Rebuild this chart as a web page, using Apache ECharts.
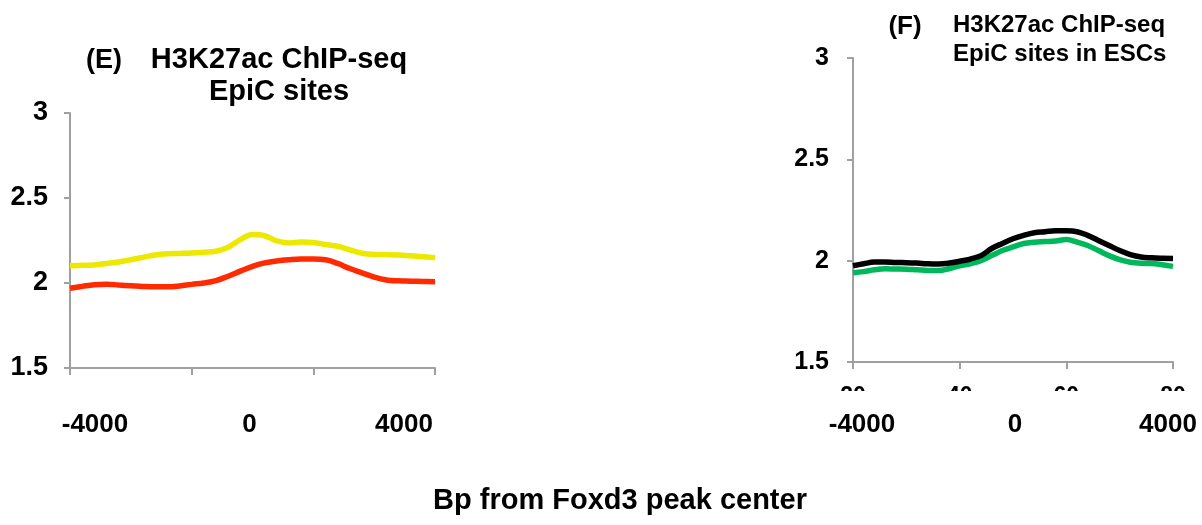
<!DOCTYPE html>
<html>
<head>
<meta charset="utf-8">
<script src="https://cdn.jsdelivr.net/npm/echarts@6/dist/echarts.min.js"></script>
<style>
  html, body { margin: 0; padding: 0; background: #fff; }
  #chart { width: 1202px; height: 525px; }
</style>
</head>
<body>
<div id="chart"></div>
<script>
// bin index along the window (the Excel category positions)
var positions = [20, 22, 24, 26, 28, 30, 32, 34, 36, 38, 40, 42, 44, 46, 48, 50,
                 52, 54, 56, 58, 60, 62, 64, 66, 68, 70, 72, 74, 76, 78, 80];

// (E) H3K27ac at EpiC sites
var epicYellow = [2.102, 2.104, 2.106, 2.115, 2.124, 2.137, 2.151, 2.165, 2.172, 2.174, 2.176,
                  2.181, 2.187, 2.210, 2.255, 2.285, 2.278, 2.248, 2.236, 2.241, 2.238,
                  2.226, 2.216, 2.195, 2.175, 2.168, 2.167, 2.165, 2.160, 2.155, 2.149];
var epicRed = [1.969, 1.980, 1.990, 1.993, 1.988, 1.984, 1.980, 1.978, 1.978, 1.983, 1.992,
               2.000, 2.014, 2.040, 2.070, 2.098, 2.118, 2.130, 2.137, 2.141, 2.141,
               2.137, 2.115, 2.085, 2.060, 2.035, 2.018, 2.013, 2.011, 2.009, 2.008];

// (F) H3K27ac at EpiC sites in ESCs
var escBlack = [1.975, 1.985, 1.993, 1.994, 1.991, 1.990, 1.988, 1.985, 1.984, 1.988, 1.997,
                2.008, 2.025, 2.060, 2.085, 2.108, 2.125, 2.138, 2.143, 2.147, 2.147,
                2.143, 2.125, 2.100, 2.075, 2.050, 2.030, 2.018, 2.014, 2.012, 2.011];
var escGreen = [1.940, 1.946, 1.955, 1.960, 1.959, 1.958, 1.955, 1.952, 1.951, 1.960, 1.975,
                1.985, 2.000, 2.025, 2.050, 2.068, 2.085, 2.091, 2.094, 2.097, 2.104,
                2.092, 2.075, 2.050, 2.025, 2.005, 1.992, 1.987, 1.986, 1.980, 1.972];

var bpLabels = [-4000, 0, 4000];
var yMin = 1.5, yMax = 3, yStep = 0.5;

var font = '"Liberation Sans", Arial, sans-serif';
var axisGrey = '#a0a0a0';

function pairs(vals) {
    return positions.map(function (p, i) { return [p, vals[i]]; });
}

function lineSeries(name, vals, color, idx) {
    return {
        name: name,
        type: 'line',
        xAxisIndex: idx,
        yAxisIndex: idx,
        data: pairs(vals),
        smooth: 0.4,
        showSymbol: false,
        lineStyle: { color: color, width: 5.5 },
        itemStyle: { color: color },
        animation: false
    };
}

function valueY(idx, size, margin) {
    return {
        type: 'value', gridIndex: idx, min: yMin, max: yMax, interval: yStep,
        axisLine: { show: true, lineStyle: { color: axisGrey, width: 2 } },
        axisTick: { show: true, length: 6, lineStyle: { color: axisGrey, width: 2 } },
        splitLine: { show: false },
        axisLabel: { color: '#000', fontFamily: font, fontWeight: 'bold', fontSize: size, margin: margin }
    };
}

function posX(idx, showLabels) {
    return {
        type: 'value', gridIndex: idx, min: 20, max: 80, interval: 20,
        axisLine: { show: true, onZero: false, lineStyle: { color: axisGrey, width: 2 } },
        axisTick: { show: true, length: 7, lineStyle: { color: axisGrey, width: 2 } },
        splitLine: { show: false },
        axisLabel: { show: showLabels, color: '#000', fontFamily: font, fontWeight: 'bold', fontSize: 23, margin: 23 }
    };
}

function bpX(idx) {
    return {
        type: 'value', gridIndex: idx, min: bpLabels[0], max: bpLabels[bpLabels.length - 1],
        interval: bpLabels[1] - bpLabels[0],
        axisLine: { show: false }, axisTick: { show: false }, splitLine: { show: false },
        axisLabel: {
            color: '#000', fontFamily: font, fontWeight: 'bold', fontSize: 26, margin: 22,
            formatter: function (v) { return String(v); }
        }
    };
}

function hiddenY(idx) {
    return { type: 'value', gridIndex: idx, show: false, min: 0, max: 1 };
}

var myChart = echarts.init(document.getElementById('chart'), null, { renderer: 'canvas' });

var option = {
    backgroundColor: '#fff',
    animation: false,
    grid: [
        { left: 70, top: 113, width: 365, height: 255 },
        { left: 853, top: 58, width: 320, height: 304 },
        { left: 95, top: 380, width: 309, height: 10 },
        { left: 862, top: 380, width: 306, height: 10 }
    ],
    xAxis: [posX(0, false), posX(1, true), bpX(2), bpX(3)],
    yAxis: [valueY(0, 27, 22), valueY(1, 25, 24), hiddenY(2), hiddenY(3)],
    series: [
        lineSeries('EpiC yellow', epicYellow, '#ece800', 0),
        lineSeries('EpiC red', epicRed, '#ff2a00', 0),
        lineSeries('ESC green', escGreen, '#00b85c', 1),
        lineSeries('ESC black', escBlack, '#000000', 1)
    ],
    graphic: [
        // white box that hides the lower part of the 20/40/60/80 labels
        { type: 'rect', z: 100, shape: { x: 820, y: 391, width: 382, height: 22 }, style: { fill: '#fff' } },
        { type: 'text', x: 104, y: 61, style: { text: '(E)', font: 'bold 27px ' + font, fill: '#000', align: 'center', verticalAlign: 'middle' } },
        { type: 'text', x: 279, y: 60, style: { text: 'H3K27ac ChIP-seq', font: 'bold 29px ' + font, fill: '#000', align: 'center', verticalAlign: 'middle' } },
        { type: 'text', x: 279, y: 92, style: { text: 'EpiC sites', font: 'bold 29px ' + font, fill: '#000', align: 'center', verticalAlign: 'middle' } },
        { type: 'text', x: 905, y: 27, style: { text: '(F)', font: 'bold 26px ' + font, fill: '#000', align: 'center', verticalAlign: 'middle' } },
        { type: 'text', x: 953, y: 25, style: { text: 'H3K27ac ChIP-seq', font: 'bold 24px ' + font, fill: '#000', align: 'left', verticalAlign: 'middle' } },
        { type: 'text', x: 953, y: 54, style: { text: 'EpiC sites in ESCs', font: 'bold 24px ' + font, fill: '#000', align: 'left', verticalAlign: 'middle' } },
        { type: 'text', x: 620, y: 501, style: { text: 'Bp from Foxd3 peak center', font: 'bold 29px ' + font, fill: '#000', align: 'center', verticalAlign: 'middle' } }
    ]
};

myChart.setOption(option);
</script>
</body>
</html>
